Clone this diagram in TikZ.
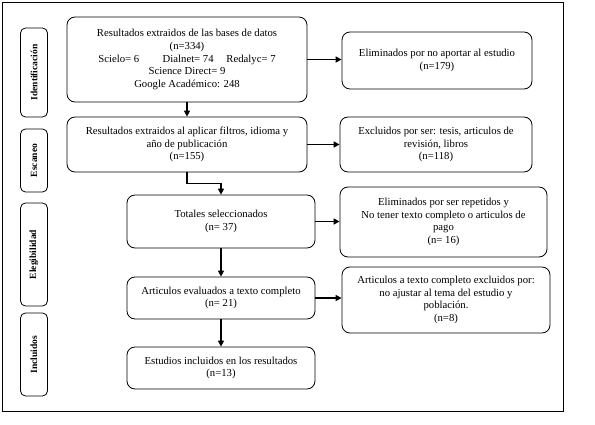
\documentclass[tikz,border=0pt]{standalone}
\usepackage{fontspec}
\setmainfont{Liberation Serif}
\usetikzlibrary{arrows.meta,calc}
\begin{document}
\begin{tikzpicture}[x=1pt,y=-1pt,
  box/.style={draw,line width=0.8pt,rounded corners=8pt,inner sep=0pt,align=center,font=\fontsize{10.7}{12.6}\selectfont},
  side/.style={draw,line width=0.8pt,rounded corners=5pt,inner sep=0pt,rotate=90,minimum height=27pt,font=\bfseries\fontsize{9.5}{12}\selectfont},
  arr/.style={line width=1.5pt,-{Triangle[length=6pt,width=6pt]}}]
\useasboundingbox (0,0) rectangle (595,425);
\draw[line width=0.8pt] (2,2) rectangle (563,411);
% side labels
\node[side,minimum width=89pt] (s1) at (34,72.5) {Identificación};
\node[side,minimum width=63pt] (s2) at (34,160.5) {Escaneo};
\node[side,minimum width=103pt] (s3) at (34,254.5) {Elegibilidad};
\node[side,minimum width=83pt] (s4) at (34,354.5) {Incluidos};
% main boxes
\node[box,minimum width=240pt,minimum height=85pt] (b1) at (187,59.5) {Resultados extraidos de las bases de datos\\(n=334)\\Scielo= 6\hspace{2.2em}Dialnet= 74\hspace{1.2em}Redalyc= 7\\Science Direct= 9\\Google Académico: 248};
\node[box,minimum width=240pt,minimum height=55pt] (b2) at (187,144.5) {Resultados extraidos al aplicar filtros, idioma y\\año de publicación\\(n=155)};
\node[box,minimum width=188pt,minimum height=53pt] (b3) at (221,221.5) {Totales seleccionados\\(n= 37)};
\node[box,minimum width=188pt,minimum height=42pt] (b4) at (221,298) {Articulos evaluados a texto completo\\(n= 21)};
\node[box,minimum width=188pt,minimum height=42pt] (b5) at (221,368) {Estudios incluidos en los resultados\\(n=13)};
% right boxes
\node[box,minimum width=190pt,minimum height=57pt] (r1) at (437,60.5) {Eliminados por no aportar al estudio\\(n=179)};
\node[box,minimum width=192pt,minimum height=55pt] (r2) at (436,144.5) {Excluidos por ser: tesis, articulos de\\revisión, libros\\(n=118)};
\node[box,minimum width=207pt,minimum height=70pt] (r3) at (443.5,222) {Eliminados por ser repetidos y\\No tener texto completo o articulos de\\pago\\(n= 16)};
\node[box,minimum width=208pt,minimum height=66pt] (r4) at (446,300) {Articulos a texto completo excluidos por:\\no ajustar al tema del estudio y\\población.\\(n=8)};
% arrows
\draw[arr] (b1.east) -- (b1.east -| r1.west);
\draw[arr] (b2.east) -- (b2.east -| r2.west);
\draw[arr] (b3.east) -- (b3.east -| r3.west);
\draw[arr] (b4.east) -- (b4.east -| r4.west);
\draw[arr] (b1.south) -- (b2.north);
\draw[arr] (b2.south) -- ++(0,11) -| (b3.north);
\draw[arr] (b3.south) -- (b4.north);
\draw[arr] (b4.south) -- (b5.north);
\end{tikzpicture}
\end{document}
